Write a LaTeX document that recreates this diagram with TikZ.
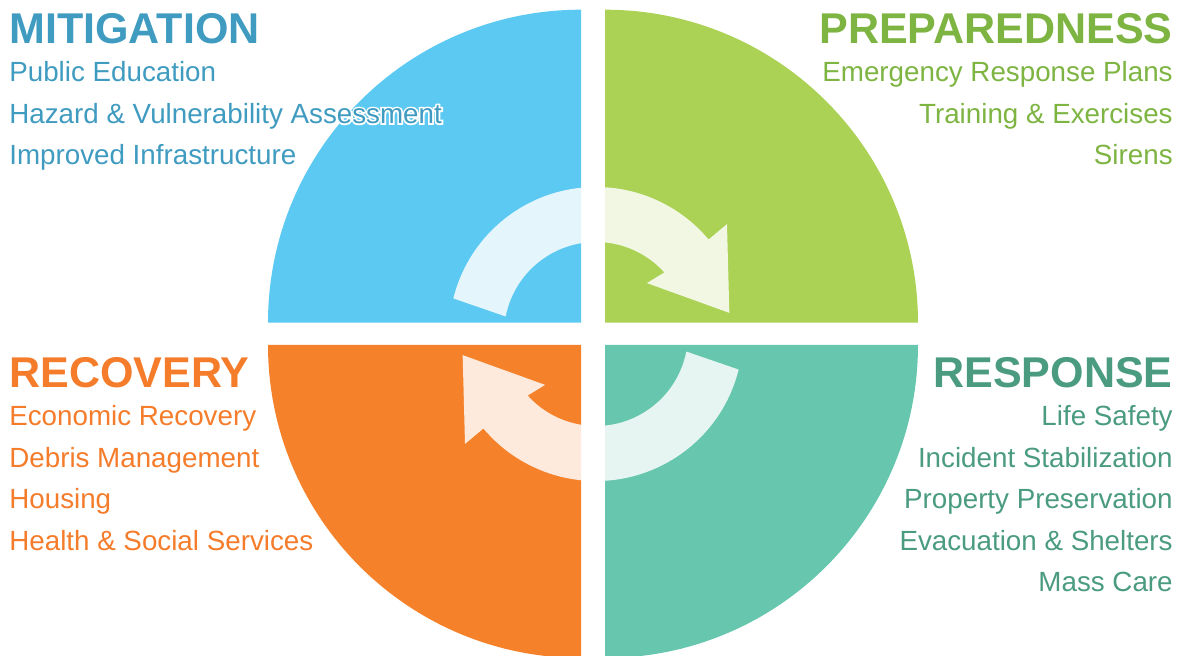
\documentclass[tikz,border=0pt]{standalone}
\usepackage{fontspec}
\setmainfont{Liberation Sans}
\newfontfamily\halofont[FakeBold=12]{Liberation Sans}

\definecolor{mitfill}{HTML}{5CC9F2}
\definecolor{mittext}{HTML}{3F9BC0}
\definecolor{prepfill}{HTML}{ABD155}
\definecolor{preptext}{HTML}{7DB442}
\definecolor{recfill}{HTML}{F5822A}
\definecolor{rectext}{HTML}{F47C2A}
\definecolor{respfill}{HTML}{66C6AE}
\definecolor{resptext}{HTML}{4A9B80}

\begin{document}
\begin{tikzpicture}[
	x=0.02cm, y=0.02cm,
	title/.style={inner sep=0pt, font=\fontsize{24.5}{28}\selectfont\bfseries},
	item/.style={inner sep=0pt, font=\fontsize{15.8}{19}\selectfont},
	cyclearrow/.style={fill=white, fill opacity=0.84, draw=none}
	]
	\useasboundingbox (0,0) rectangle (1181,656);
	
	%-----------------------
	% Baselines of the text rows
	%-----------------------
	\def\htopA{612.7}  % top titles
	\def\htopB{574}
	\def\htopC{532.7}
	\def\htopD{491.5}
	\def\hbotA{268.3}  % bottom titles
	\def\hbotB{230}
	\def\hbotC{188.5}
	\def\hbotD{147.5}
	\def\hbotE{105.7}
	\def\hbotF{64.3}
	
	%-----------------------
	% Quarter disks
	%-----------------------
	\fill[mitfill]  (581,333.3) -- ++(-313,0) arc[start angle=180, end angle=90, radius=313] -- cycle;
	\fill[prepfill] (605,333.3) -- ++(0,313) arc[start angle=90, end angle=0, radius=313] -- cycle;
	\fill[recfill]  (581,311) -- ++(0,-313) arc[start angle=270, end angle=180, radius=313] -- cycle;
	\fill[respfill] (605,311) -- ++(313,0) arc[start angle=0, end angle=-90, radius=313] -- cycle;
	
	%-----------------------
	% Cycle arrows
	%-----------------------
	\foreach \rot in {0,180}{
		\begin{scope}[shift={(596,322)}, rotate=\rot]
			\fill[cyclearrow] (166:147) arc[start angle=166, end angle=40, radius=147]
				-- (40:171) -- (9:135) -- (45:72) -- (42:92)
				arc[start angle=42, end angle=169, radius=92] -- cycle;
		\end{scope}
	}
	
	%-----------------------
	% Mitigation
	%-----------------------
	\node[title, mittext, anchor=base west] (mit) at (9,\htopA) {MITIGATION};
	\node[item, mittext, anchor=base west] (mit-1) at (9,\htopB) {Public Education};
	\node[item, white, anchor=base west] (mit-2-halo) at (9,\htopC) {\halofont Hazard \& Vulnerability Assessment};
	\node[item, mittext, anchor=base west] (mit-2) at (9,\htopC) {Hazard \& Vulnerability Assessment};
	\node[item, mittext, anchor=base west] (mit-3) at (9,\htopD) {Improved Infrastructure};
	
	%-----------------------
	% Preparedness
	%-----------------------
	\node[title, preptext, anchor=base east] (prep) at (1173,\htopA) {PREPAREDNESS};
	\node[item, preptext, anchor=base east] (prep-1) at (1173,\htopB) {Emergency Response Plans};
	\node[item, preptext, anchor=base east] (prep-2) at (1173,\htopC) {Training \& Exercises};
	\node[item, preptext, anchor=base east] (prep-3) at (1173,\htopD) {Sirens};
	
	%-----------------------
	% Recovery
	%-----------------------
	\node[title, rectext, anchor=base west] (rec) at (9,\hbotA) {RECOVERY};
	\node[item, rectext, anchor=base west] (rec-1) at (9,\hbotB) {Economic Recovery};
	\node[item, rectext, anchor=base west] (rec-2) at (9,\hbotC) {Debris Management};
	\node[item, rectext, anchor=base west] (rec-3) at (9,\hbotD) {Housing};
	\node[item, rectext, anchor=base west] (rec-4) at (9,\hbotE) {Health \& Social Services};
	
	%-----------------------
	% Response
	%-----------------------
	\node[title, resptext, anchor=base east] (resp) at (1173,\hbotA) {RESPONSE};
	\node[item, resptext, anchor=base east] (resp-1) at (1173,\hbotB) {Life Safety};
	\node[item, resptext, anchor=base east] (resp-2) at (1173,\hbotC) {Incident Stabilization};
	\node[item, resptext, anchor=base east] (resp-3) at (1173,\hbotD) {Property Preservation};
	\node[item, resptext, anchor=base east] (resp-4) at (1173,\hbotE) {Evacuation \& Shelters};
	\node[item, resptext, anchor=base east] (resp-5) at (1173,\hbotF) {Mass Care};
	
\end{tikzpicture}
\end{document}
